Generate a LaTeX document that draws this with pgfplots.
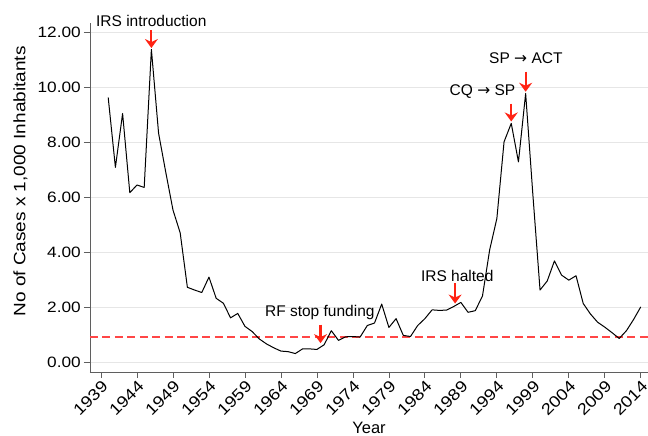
\documentclass[border=0pt]{standalone}
\usepackage{fontspec}
\setmainfont{Liberation Sans}
\newfontfamily\tickfont[FakeStretch=1.15]{Liberation Sans}
\newfontfamily\symfont{DejaVu Sans}
\usepackage{pgfplots}
\usepackage{pgfplotstable}
\pgfplotsset{compat=1.18}
\usetikzlibrary{arrows.meta}

\definecolor{axgray}{RGB}{95,95,95}
\definecolor{gridgray}{RGB}{230,230,230}
\definecolor{arrred}{RGB}{255,35,20}
\definecolor{refred}{RGB}{255,70,70}

\pgfplotstableread{
year val
1940 9.62
1941 7.08
1942 9.04
1943 6.16
1944 6.44
1945 6.35
1946 11.37
1947 8.32
1948 6.90
1949 5.53
1950 4.70
1951 2.72
1952 2.62
1953 2.53
1954 3.09
1955 2.32
1956 2.14
1957 1.61
1958 1.77
1959 1.30
1960 1.11
1961 0.84
1962 0.66
1963 0.52
1964 0.40
1965 0.38
1966 0.31
1967 0.48
1968 0.48
1969 0.46
1970 0.63
1971 1.14
1972 0.79
1973 0.92
1974 0.93
1975 0.91
1976 1.33
1977 1.42
1978 2.11
1979 1.26
1980 1.58
1981 0.97
1982 0.93
1983 1.33
1984 1.58
1985 1.90
1986 1.88
1987 1.89
1988 2.02
1989 2.17
1990 1.81
1991 1.87
1992 2.40
1993 4.08
1994 5.22
1995 8.01
1996 8.68
1997 7.28
1998 9.77
1999 6.10
2000 2.62
2001 2.95
2002 3.68
2003 3.16
2004 2.98
2005 3.14
2006 2.13
2007 1.75
2008 1.45
2009 1.27
2010 1.07
2011 0.86
2012 1.14
2013 1.55
2014 2.01
}\cases

\begin{document}
\begin{tikzpicture}
\begin{axis}[name=ax, scale only axis, width=558pt, height=349pt,
 xmin=1937.47, xmax=2015, ymin=-0.36, ymax=12.33,
 axis lines=left, axis line style={-, axgray, line width=0.8pt},
 xtick={1939,1944,...,2014}, ytick={0,2,...,12},
 tick align=outside, major tick length=6pt,
 tick style={axgray, line width=0.8pt},
 /pgf/number format/1000 sep={},
 /pgf/number format/assume math mode=true,
 xticklabel style={rotate=45, anchor=north east, font=\tickfont\fontsize{16}{16}\selectfont, inner sep=1pt},
 yticklabel style={font=\tickfont\fontsize{15}{15}\selectfont, inner sep=1pt, xshift=-2pt,
   /pgf/number format/.cd, fixed, fixed zerofill, precision=2},
 ymajorgrids, grid style={gridgray, line width=0.8pt},
 xlabel={Year}, ylabel={No of Cases x 1,000 Inhabitants},
 xlabel style={font=\fontsize{16.5}{16.5}\selectfont, at={(axis description cs:0.5,0)}, anchor=base, yshift=-61.5pt},
 ylabel style={font=\tickfont\fontsize{16.5}{16.5}\selectfont, at={([xshift=-64.5pt]axis description cs:0,0.546)}, anchor=base},
 clip=false,
]
\addplot[refred, line width=1.2pt, dash pattern=on 8pt off 4.5pt] coordinates {(1937.47,0.91) (2015,0.91)};
\addplot[black, line width=1pt, line join=round] table[x=year, y=val] {\cases};

\tikzset{ann/.style={inner sep=0pt, font=\fontsize{15.5}{15.5}\selectfont},
  arr/.style={arrred, line width=2.2pt, -{Stealth[length=9pt, width=13pt, inset=3pt]}}}
\node[ann, anchor=base west] at (axis cs:1938.3,12.22) {IRS introduction};
\draw[arr] (axis cs:1946,12.07) -- (axis cs:1946,11.42);
\node[ann, anchor=base] at (axis cs:1998.03,10.86) {SP {\symfont →} ACT};
\draw[arr] (axis cs:1998,10.56) -- (axis cs:1998,9.83);
\node[ann, anchor=base] at (axis cs:1992.0,9.71) {CQ {\symfont →} SP};
\draw[arr] (axis cs:1996,9.40) -- (axis cs:1996,8.75);
\node[ann, anchor=base] at (axis cs:1988.5,2.93) {IRS halted};
\draw[arr] (axis cs:1988.2,2.86) -- (axis cs:1988.2,2.13);
\node[ann, anchor=base] at (axis cs:1969.4,1.66) {RF stop funding};
\draw[arr] (axis cs:1969.5,1.36) -- (axis cs:1969.5,0.69);
\end{axis}
\pgfresetboundingbox
\path ([xshift=-90pt,yshift=-64pt]ax.south west) rectangle ([yshift=23pt]ax.north east);
\end{tikzpicture}
\end{document}
